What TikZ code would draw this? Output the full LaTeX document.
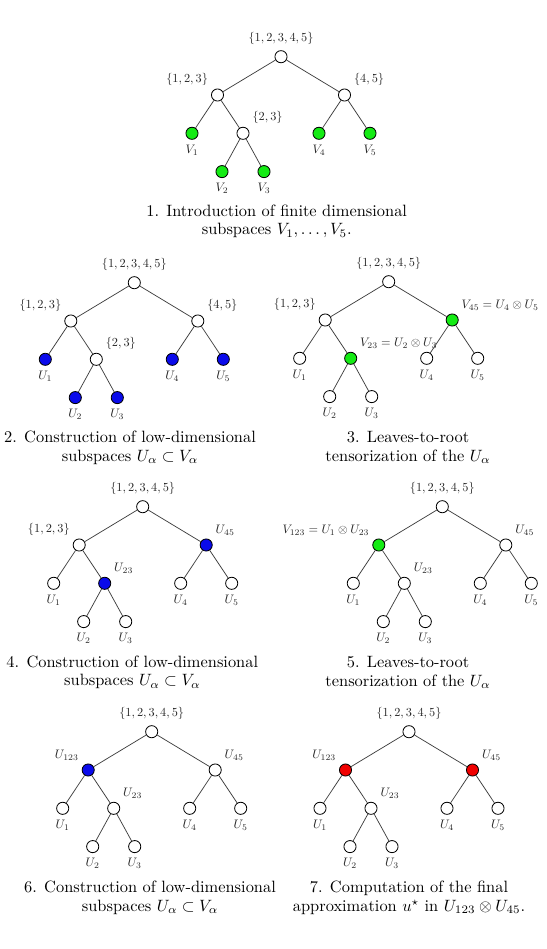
\RequirePackage{fix-cm}
\documentclass[tikz,border=0pt]{standalone}
\usepackage{graphicx}
\definecolor{ngreen}{RGB}{20,235,20}
\definecolor{nblue}{RGB}{10,10,235}
\definecolor{nred}{RGB}{240,0,0}
\newcommand\lb[1]{\scalebox{0.75}{$#1$}}
\tikzset{
  vtx/.style={circle, draw=black, line width=0.5pt, minimum size=7.4pt, inner sep=0pt, fill=white},
  lab/.style={font=\normalsize, text=black!85, inner sep=2.4pt},
  edge/.style={draw=black!75, line width=0.45pt},
  captxt/.style={font=\fontsize{10}{11.4}\selectfont, align=center},
}
\newcommand\htree[7]{%
  \begin{scope}[shift={#2}]
    \node[vtx, label={[lab]above:\lb{\{1,2,3,4,5\}}}] (#1r) at (0,0) {};
    \node[vtx, #5] (#1a) at (-63.5,38.3) {};
    \node[vtx, #6] (#1b) at (63.5,38.3) {};
    \node[vtx, #4, label={[lab]below:\lb{#3_1}}] (#1l1) at (-89,76.6) {};
    \node[vtx, #7] (#1c) at (-38,76.6) {};
    \node[vtx, #4, label={[lab]below:\lb{#3_4}}] (#1l4) at (38,76.6) {};
    \node[vtx, #4, label={[lab]below:\lb{#3_5}}] (#1l5) at (89,76.6) {};
    \node[vtx, #4, label={[lab]below:\lb{#3_2}}] (#1l2) at (-59,114.9) {};
    \node[vtx, #4, label={[lab]below:\lb{#3_3}}] (#1l3) at (-17,114.9) {};
    \draw[edge] (#1r)--(#1a) (#1r)--(#1b) (#1a)--(#1l1) (#1a)--(#1c)
                (#1c)--(#1l2) (#1c)--(#1l3) (#1b)--(#1l4) (#1b)--(#1l5);
  \end{scope}}
\begin{document}
\begin{tikzpicture}[x=0.61pt, y=-0.61pt, label distance=0.6pt]
\fill[white] (0,0) rectangle (546,949);
\useasboundingbox (0,0) rectangle (546,949);
% 1
\htree{p}{(281,56.7)}{V}{fill=ngreen}
  {label={[lab]above left:\lb{\{1,2,3\}}}}
  {label={[lab]above right:\lb{\{4,5\}}}}
  {label={[lab]above right:\lb{\{2,3\}}}}
\node[captxt] (c1) at (276.7,221.2) {1. Introduction of finite dimensional\\subspaces $V_1,\ldots,V_5$.};
% 2
\htree{q}{(134.3,282.7)}{U}{fill=nblue}
  {label={[lab]above left:\lb{\{1,2,3\}}}}
  {label={[lab]above right:\lb{\{4,5\}}}}
  {label={[lab]above right:\lb{\{2,3\}}}}
\node[captxt] (c2) at (130,447.5) {2. Construction of low-dimensional\\subspaces $U_\alpha\subset V_\alpha$};
% 3
\htree{s}{(388.7,281.7)}{U}{}
  {label={[lab]above left:\lb{\{1,2,3\}}}}
  {fill=ngreen, label={[lab]above right:\lb{V_{45}=U_4\otimes U_5}}}
  {fill=ngreen, label={[lab]above right:\lb{V_{23}=U_2\otimes U_3}}}
\node[captxt] (c3) at (408,447.5) {3. Leaves-to-root\\tensorization of the $U_\alpha$};
% 4
\htree{t}{(142.7,506.7)}{U}{}
  {label={[lab]above left:\lb{\{1,2,3\}}}}
  {fill=nblue, label={[lab]above right:\lb{U_{45}}}}
  {fill=nblue, label={[lab]above right:\lb{U_{23}}}}
\node[captxt] (c4) at (132.3,672.3) {4. Construction of low-dimensional\\subspaces $U_\alpha\subset V_\alpha$};
% 5
\htree{v}{(442.3,506.7)}{U}{}
  {fill=ngreen, label={[lab]above left:\lb{V_{123}=U_1\otimes U_{23}}}}
  {label={[lab]above right:\lb{U_{45}}}}
  {label={[lab]above right:\lb{U_{23}}}}
\node[captxt] (c5) at (408,672.5) {5. Leaves-to-root\\tensorization of the $U_\alpha$};
% 6
\htree{w}{(151.7,731.7)}{U}{}
  {fill=nblue, label={[lab]above left:\lb{U_{123}}}}
  {label={[lab]above right:\lb{U_{45}}}}
  {label={[lab]above right:\lb{U_{23}}}}
\node[captxt] (c6) at (150,897.5) {6. Construction of low-dimensional\\subspaces $U_\alpha\subset V_\alpha$};
% 7
\htree{z}{(409,731.7)}{U}{}
  {fill=nred, label={[lab]above left:\lb{U_{123}}}}
  {fill=nred, label={[lab]above right:\lb{U_{45}}}}
  {label={[lab]above right:\lb{U_{23}}}}
\node[captxt] (c7) at (409,897.5) {7. Computation of the final\\approximation $u^\star$ in $U_{123}\otimes U_{45}$.};
\end{tikzpicture}
\end{document}
